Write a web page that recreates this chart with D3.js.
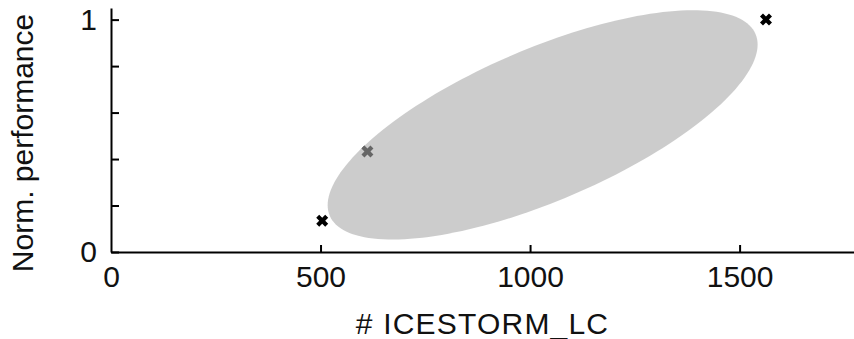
<!DOCTYPE html>
<html>
<head>
<meta charset="utf-8">
<script src="https://cdn.jsdelivr.net/npm/d3@7/dist/d3.min.js"></script>
<style>
  html, body { margin: 0; padding: 0; background: #fff; }
  svg { display: block; font-family: "Liberation Sans", Arial, sans-serif; }
  .axis path, .axis line { stroke: #000; stroke-width: 2; }
  .axis text { font-size: 30px; fill: #111; }
</style>
</head>
<body>
<svg id="chart" width="854" height="339"></svg>
<script>
// Measured designs: LC count vs normalised performance
const lcCounts = [504, 612, 1563];
const perfValues = [0.135, 0.432, 1.0];

// Spread ellipse (data units): centre, half-extents along x/y, coupling
const ellipseCenter = [1030, 0.547];
const ellipseHalf = [513, 0.4935];
const ellipseCoupling = 0.70;

// Axis ticks
const xTicks = [0, 500, 1000, 1500];
const yTicks = [0, 0.2, 0.4, 0.6, 0.8, 1];
const yTickLabels = { 0: "0", 1: "1" };

const svg = d3.select("#chart");
const plotLeft = 111, plotRight = 854, plotTop = 8, plotBottom = 252;

const x = d3.scaleLinear().domain([0, 1773]).range([plotLeft, plotRight]);
const y = d3.scaleLinear().domain([0, 1.05]).range([plotBottom, plotTop]);

// markers (drawn beneath the translucent ellipse)
const cross = d3.symbol().type(d3.symbolCross).size(90);
svg.append("g").selectAll("path")
  .data(lcCounts.map((v, i) => [v, perfValues[i]]))
  .join("path")
  .attr("d", cross)
  .attr("transform", d => `translate(${x(d[0])},${y(d[1])}) rotate(45)`)
  .attr("fill", "#000");

// ellipse outline built in data space
const phi = Math.acos(ellipseCoupling);
const ellipsePts = d3.range(0, 361, 2).map(a => {
  const t = a * Math.PI / 180;
  return [ellipseCenter[0] + ellipseHalf[0] * Math.cos(t),
          ellipseCenter[1] + ellipseHalf[1] * Math.cos(t + phi)];
});
svg.append("path")
  .datum(ellipsePts)
  .attr("d", d3.line().x(d => x(d[0])).y(d => y(d[1])).curve(d3.curveLinearClosed))
  .attr("fill", "#aaaaaa")
  .attr("fill-opacity", 0.6);

// axes
const xAxis = d3.axisBottom(x).tickValues(xTicks)
  .tickSizeInner(-7).tickSizeOuter(0).tickPadding(14)
  .tickFormat(d3.format("d"));
svg.append("g").attr("class", "axis")
  .attr("transform", `translate(0,${plotBottom})`)
  .call(xAxis)
  .call(g => g.selectAll(".tick").filter(d => d === 0).select("line").remove());

const yAxis = d3.axisLeft(y).tickValues(yTicks)
  .tickSizeInner(-8).tickSizeOuter(0).tickPadding(14)
  .tickFormat(d => yTickLabels[d] || "");
svg.append("g").attr("class", "axis")
  .attr("transform", `translate(${plotLeft},0)`)
  .call(yAxis);

// axis titles
svg.append("text")
  .attr("x", (plotLeft + plotRight) / 2).attr("y", 334)
  .attr("text-anchor", "middle")
  .attr("font-size", 30).attr("fill", "#111")
  .attr("letter-spacing", 1.2)
  .text("# ICESTORM_LC");

svg.append("text")
  .attr("transform", "translate(33,143) rotate(-90)")
  .attr("text-anchor", "middle")
  .attr("font-size", 30).attr("fill", "#111")
  .text("Norm. performance");
</script>
</body>
</html>
